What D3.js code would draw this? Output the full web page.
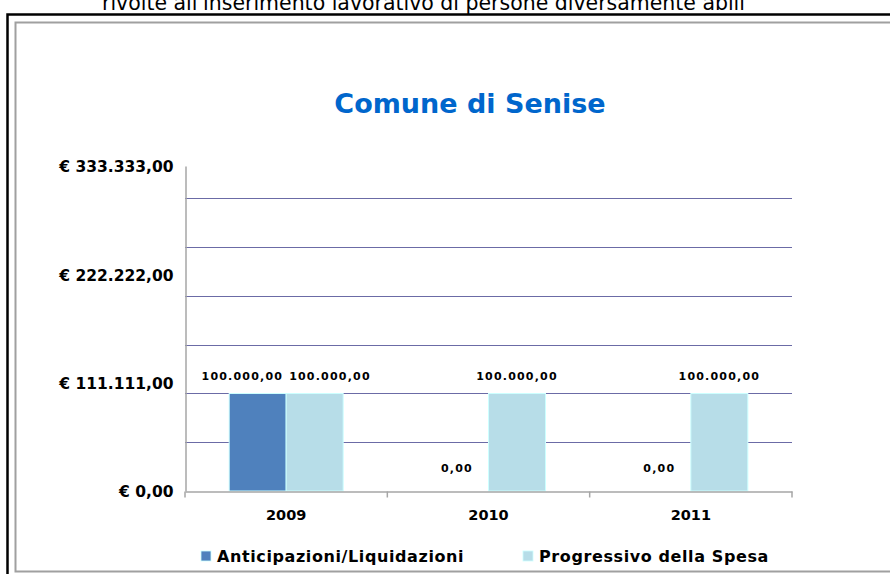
<!DOCTYPE html>
<html>
<head>
<meta charset="utf-8">
<script src="https://cdn.jsdelivr.net/npm/d3@7"></script>
<style>
  body { margin: 0; background: #fff; }
  svg { display: block; font-family: "DejaVu Sans", Verdana, sans-serif; }
</style>
</head>
<body>
<svg id="chart" width="890" height="574"></svg>
<script>
// chart data
var years = ['2009', '2010', '2011'];
var seriesNames = ['Anticipazioni/Liquidazioni', 'Progressivo della Spesa'];
var anticipazioni = [100000, 0, 0];
var progressivo = [100000, 100000, 100000];
var yTickValues = [0, 111111, 222222, 333333];
var yTickLabels = ['€ 0,00', '€ 111.111,00', '€ 222.222,00', '€ 333.333,00'];
var gridValues = [50000, 100000, 150000, 200000, 250000, 300000];
var colors = ['#4f81bd', '#b7dde8'];

var dims = {
  width: 890,
  height: 574,
  plot: { left: 185, right: 792, top: 166, bottom: 491 }
};

var svg = d3.select('#chart');

// page heading, clipped at the top like in the original
svg.append('text')
  .attr('x', 102)
  .attr('y', 10)
  .attr('textLength', 643)
  .attr('lengthAdjust', 'spacingAndGlyphs')
  .style('font-size', '21px')
  .attr('fill', '#000')
  .text("rivolte all'inserimento lavorativo di persone diversamente abili");

// frames
svg.append('path')
  .attr('d', 'M7.5,574 V14.5 H890')
  .attr('fill', 'none')
  .attr('stroke', '#000')
  .attr('stroke-width', 2.5);
svg.append('path')
  .attr('d', 'M890,22.5 H15.5 V571.5 H890')
  .attr('fill', 'none')
  .attr('stroke', '#a0a0a0')
  .attr('stroke-width', 2);

var y = d3.scaleLinear()
  .domain([0, 333333])
  .range([dims.plot.bottom, dims.plot.top]);

var x0 = d3.scaleBand()
  .domain(years)
  .range([dims.plot.left, dims.plot.right])
  .padding(0);

var x1 = d3.scaleBand()
  .domain([0, 1])
  .range([0, x0.bandwidth()])
  .paddingInner(0)
  .paddingOuter(0.775);

// title
svg.append('text')
  .attr('x', 470)
  .attr('y', 113)
  .attr('text-anchor', 'middle')
  .style('font-size', '27px')
  .style('font-weight', 'bold')
  .attr('fill', '#0066cc')
  .text('Comune di Senise');

// gridlines
svg.append('g')
  .selectAll('line')
  .data(gridValues)
  .enter()
  .append('line')
  .attr('x1', dims.plot.left)
  .attr('x2', dims.plot.right)
  .attr('y1', (d) => Math.round(y(d)) + 0.5)
  .attr('y2', (d) => Math.round(y(d)) + 0.5)
  .attr('stroke', '#6b6ba6')
  .attr('stroke-width', 1);

// y axis
var yAxis = d3.axisLeft(y)
  .tickValues(yTickValues)
  .tickSize(0)
  .tickPadding(12)
  .tickFormat((d, i) => yTickLabels[i]);

var yg = svg.append('g')
  .attr('transform', 'translate(' + (dims.plot.left + 0.5) + ',0)')
  .call(yAxis);
yg.select('.domain').attr('stroke', '#a6a6a6').attr('stroke-width', 1.5);
yg.selectAll('text')
  .style('font-family', '"DejaVu Sans", Verdana, sans-serif')
  .style('font-size', '15.5px')
  .style('font-weight', 'bold')
  .attr('fill', '#000')
  .attr('dy', '0.38em');

// bars
var series = [anticipazioni, progressivo];
var groups = svg.append('g')
  .selectAll('g')
  .data(years)
  .enter()
  .append('g')
  .attr('transform', (d) => 'translate(' + x0(d) + ',0)');

groups.selectAll('rect')
  .data((d, i) => series.map((s, k) => ({ k: k, v: s[i] })))
  .enter()
  .append('rect')
  .attr('x', (d) => x1(d.k))
  .attr('width', x1.bandwidth())
  .attr('y', (d) => y(d.v))
  .attr('height', (d) => y(0) - y(d.v))
  .attr('fill', (d) => colors[d.k])
  .attr('stroke', (d) => d.v > 0 ? '#ccffff' : 'none')
  .attr('stroke-width', 1);

// x axis
var xAxis = d3.axisBottom(x0)
  .tickSize(0)
  .tickPadding(18);
var xg = svg.append('g')
  .attr('transform', 'translate(0,' + (dims.plot.bottom + 0.5) + ')')
  .call(xAxis);
xg.select('.domain').attr('stroke', '#a6a6a6').attr('stroke-width', 1.5);
xg.selectAll('text')
  .style('font-family', '"DejaVu Sans", Verdana, sans-serif')
  .style('font-size', '14.5px')
  .style('font-weight', 'bold')
  .attr('fill', '#000');

// category separators below the axis
xg.selectAll('.sep')
  .data(years.map((d) => x0(d)).concat([dims.plot.right]))
  .enter()
  .append('line')
  .attr('x1', (d) => d)
  .attr('x2', (d) => d)
  .attr('y1', 0)
  .attr('y2', 6)
  .attr('stroke', '#a6a6a6')
  .attr('stroke-width', 1.5);

// data labels
var fmt = d3.formatLocale({ decimal: ',', thousands: '.', grouping: [3], currency: ['€ ', ''] }).format(',.2f');

groups.selectAll('text.lbl')
  .data((d, i) => series.map((s, k) => ({ k: k, v: s[i], both: series.every((ss) => ss[i] > 0) })))
  .enter()
  .append('text')
  .attr('class', 'lbl')
  .attr('x', (d) => {
    if (d.both) return d.k === 0 ? x1(1) - 3 : x1(1) + 3;
    return x1(d.k) + x1.bandwidth() / 2 - (d.v === 0 ? 3 : 0);
  })
  .attr('y', (d) => y(d.v) - (d.v === 0 ? 19 : 13))
  .attr('text-anchor', (d) => d.both ? (d.k === 0 ? 'end' : 'start') : 'middle')
  .style('font-size', '11px')
  .style('font-weight', 'bold')
  .style('letter-spacing', '1.2px')
  .attr('fill', '#000')
  .text((d) => fmt(d.v));

// legend
var legendX = [201, 523];
var legend = svg.append('g')
  .selectAll('g')
  .data(seriesNames)
  .enter()
  .append('g')
  .attr('transform', (d, i) => 'translate(' + legendX[i] + ',551)');

legend.append('rect')
  .attr('width', 10)
  .attr('height', 10)
  .attr('fill', (d, i) => colors[i])
  .attr('stroke', '#ccffff')
  .attr('stroke-width', 0.8);

legend.append('text')
  .attr('x', 16)
  .attr('y', 11)
  .style('font-size', '16px')
  .style('font-weight', 'bold')
  .style('letter-spacing', '0.6px')
  .attr('fill', '#000')
  .text((d) => d);
</script>
</body>
</html>
